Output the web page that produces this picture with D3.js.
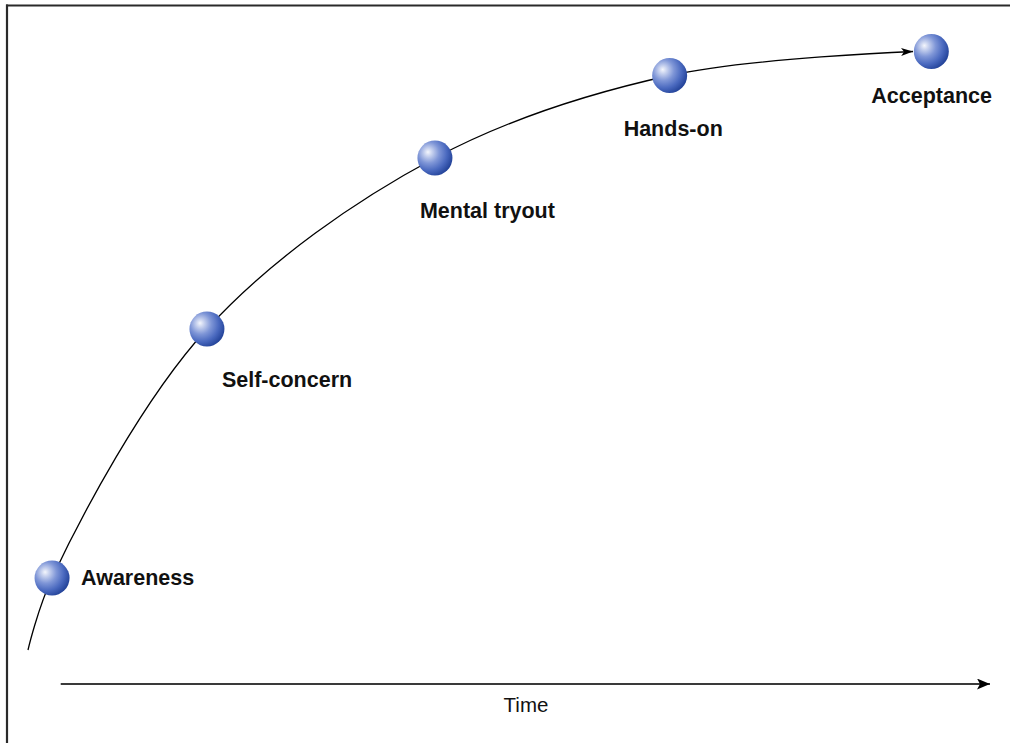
<!DOCTYPE html>
<html>
<head>
<meta charset="utf-8">
<script src="https://cdn.jsdelivr.net/npm/d3@7"></script>
<style>
  html, body { margin: 0; padding: 0; background: #fff; }
  svg { display: block; }
  text { font-family: "Liberation Sans", Arial, Helvetica, sans-serif; }
</style>
</head>
<body>
<svg id="chart" width="1010" height="743"></svg>
<script>
// ---- data ----
const stages = ["Awareness", "Self-concern", "Mental tryout", "Hands-on", "Acceptance"];
const stageTime = [2.5, 18.6, 42.3, 66.7, 93.9];
const stageLevel = [12, 53.5, 82, 95.75, 99.75];
const curveTime = [0, 2.5, 18.6, 42.3, 66.7, 92];
const curveLevel = [0, 12, 53.5, 82, 95.75, 99.75];
const axisTime = [3.4, 100];
const axisLabel = "Time";

// ---- layout (label offsets from sphere centre) ----
const labelDx = [29, 15, -15, -46, -60];
const labelDy = [7, 58, 60, 60, 51];

const svg = d3.select("#chart");
const x = d3.scaleLinear().domain([0, 100]).range([28, 990]);
const y = d3.scaleLinear().domain([0, 100]).range([650, 50]);

const defs = svg.append("defs");
const grad = defs.append("radialGradient").attr("id", "sphere")
  .attr("cx", "0.35").attr("cy", "0.37").attr("r", "0.72")
  .attr("fx", "0.3").attr("fy", "0.33");
[[0, "#f4f6fc"], [0.15, "#c9d3ef"], [0.42, "#7f96d7"], [0.7, "#4a69bf"], [1, "#1c3c92"]]
  .forEach(([o, c]) => grad.append("stop").attr("offset", o).attr("stop-color", c));

defs.append("marker").attr("id", "headCurve")
  .attr("viewBox", "0 0 12 8").attr("refX", 12).attr("refY", 4)
  .attr("markerWidth", 12).attr("markerHeight", 8).attr("markerUnits", "userSpaceOnUse")
  .attr("orient", "auto")
  .append("path").attr("d", "M0,0 L12,4 L0,8 L3,4 Z").attr("fill", "#000");

defs.append("marker").attr("id", "headAxis")
  .attr("viewBox", "0 0 13 11").attr("refX", 13).attr("refY", 5.5)
  .attr("markerWidth", 13).attr("markerHeight", 11).attr("markerUnits", "userSpaceOnUse")
  .attr("orient", "auto")
  .append("path").attr("d", "M0,0 L13,5.5 L0,11 L3,5.5 Z").attr("fill", "#000");

// frame
svg.append("line").attr("x1", 6).attr("x2", 1010).attr("y1", 5.5).attr("y2", 5.5)
  .attr("stroke", "#2a2a2a").attr("stroke-width", 2.2);
svg.append("line").attr("x1", 7).attr("x2", 7).attr("y1", 4.5).attr("y2", 743)
  .attr("stroke", "#2a2a2a").attr("stroke-width", 2.2);

// time axis
svg.append("line")
  .attr("x1", x(axisTime[0])).attr("x2", x(axisTime[1]))
  .attr("y1", 684).attr("y2", 684)
  .attr("stroke", "#3a3a3a").attr("stroke-width", 1.8)
  .attr("marker-end", "url(#headAxis)");
svg.append("text").attr("x", 526).attr("y", 712)
  .attr("text-anchor", "middle").attr("font-size", 20.5).attr("fill", "#111")
  .text(axisLabel);

// curve
const pts = curveTime.map((t, i) => [t, curveLevel[i]]);
const line = d3.line().x(d => x(d[0])).y(d => y(d[1])).curve(d3.curveCatmullRom.alpha(0.5));
svg.append("path").attr("d", line(pts))
  .attr("fill", "none").attr("stroke", "#000").attr("stroke-width", 1.3)
  .attr("marker-end", "url(#headCurve)");

// spheres + labels
const g = svg.selectAll("g.stage").data(stages).enter().append("g").attr("class", "stage");
g.append("circle")
  .attr("cx", (d, i) => x(stageTime[i])).attr("cy", (d, i) => y(stageLevel[i]))
  .attr("r", 17.5).attr("fill", "url(#sphere)");
g.append("text")
  .attr("x", (d, i) => x(stageTime[i]) + labelDx[i])
  .attr("y", (d, i) => y(stageLevel[i]) + labelDy[i])
  .attr("font-size", 21.5).attr("font-weight", "bold").attr("fill", "#111")
  .text(d => d);
</script>
</body>
</html>
